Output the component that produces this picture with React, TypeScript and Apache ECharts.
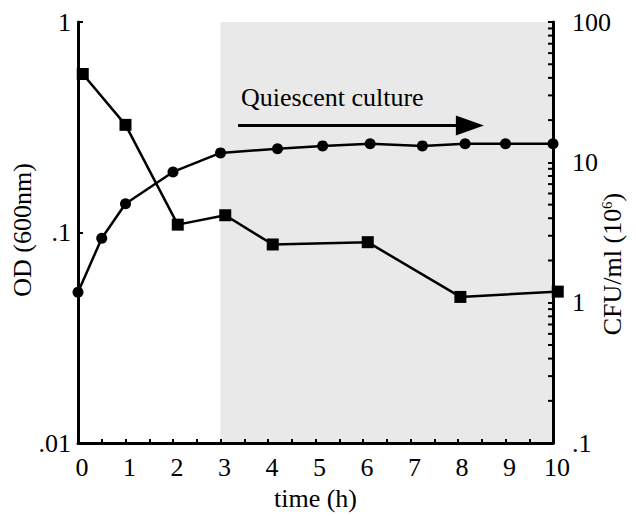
import React, { useEffect, useRef } from "react";
import * as echarts from "echarts";

const odHours = [0, 0.5, 1, 2, 3, 4.2, 5.15, 6.15, 7.25, 8.15, 9, 10];
const odValues = [0.052, 0.094, 0.137, 0.194, 0.239, 0.25, 0.258, 0.264, 0.258, 0.264, 0.264, 0.264];
const cfuHours = [0.1, 1, 2.1, 3.1, 4.1, 6.1, 8.05, 10.1];
const cfuValues = [42.6, 18.5, 3.6, 4.2, 2.6, 2.7, 1.1, 1.2];
const cfuMinorTicks = [0.2, 0.3, 0.4, 0.5, 0.6, 0.7, 0.8, 0.9, 2, 3, 4, 5, 6, 7, 8, 9, 20, 30, 40, 50, 60, 70, 80, 90];
const quiescentStart = 3;
const quiescentEnd = 10;
const arrowFrom = [3.37, 0.322];
const arrowTo = [8.25, 0.322];

const FONT = "'Liberation Serif', 'Times New Roman', serif";
const FS = 26;

function fmtLog(v: number) {
  const e = Math.round(Math.log10(v));
  if (e >= 0) return String(Math.pow(10, e));
  return "." + "0".repeat(-e - 1) + "1";
}

export default function App() {
  const ref = useRef<HTMLDivElement>(null);
  useEffect(() => {
    document.body.style.margin = "0";
    if (!ref.current) return;
    const chart = echarts.init(ref.current, null, { renderer: "svg" });
    const labelStyle = { color: "#000", fontSize: FS, fontFamily: FONT };
    chart.setOption({
      animation: false,
      backgroundColor: "#fff",
      grid: { left: 78, right: 83, top: 22, bottom: 72 },
      xAxis: {
        type: "value",
        min: 0,
        max: 10,
        interval: 1,
        z: 10,
        name: "time (h)",
        nameLocation: "middle",
        nameGap: 40,
        nameTextStyle: { color: "#000", fontSize: FS, fontFamily: FONT },
        axisLine: { show: true, lineStyle: { color: "#000", width: 3 } },
        axisTick: { show: true, inside: true, length: 4, lineStyle: { color: "#000", width: 2 } },
        minorTick: { show: true, splitNumber: 2, length: 4, lineStyle: { color: "#000", width: 2 } },
        axisLabel: { ...labelStyle, margin: 11, padding: [0, 0, 0, 8] },
        splitLine: { show: false },
        minorSplitLine: { show: false },
      },
      yAxis: [
        {
          type: "log",
          logBase: 10,
          min: 0.01,
          max: 1,
          position: "left",
          z: 10,
          axisLine: { show: true, lineStyle: { color: "#000", width: 3 } },
          axisTick: { show: true, inside: true, length: 5, lineStyle: { color: "#000", width: 2 } },
          axisLabel: { ...labelStyle, margin: 7, formatter: fmtLog },
          splitLine: { show: false },
        },
        {
          type: "log",
          logBase: 10,
          min: 0.1,
          max: 100,
          position: "right",
          z: 10,
          axisLine: { show: true, lineStyle: { color: "#000", width: 3 } },
          axisTick: { show: true, inside: true, length: 5, lineStyle: { color: "#000", width: 2 } },
          axisLabel: { ...labelStyle, margin: 19, formatter: fmtLog },
          splitLine: { show: false },
        },
      ],
      series: [
        {
          type: "line",
          name: "OD",
          yAxisIndex: 0,
          data: odHours.map((h, i) => [h, odValues[i]]),
          symbol: "circle",
          symbolSize: 11,
          clip: false,
          z: 12,
          lineStyle: { color: "#000", width: 2.5 },
          itemStyle: { color: "#000" },
          markArea: {
            silent: true,
            z: 1,
            itemStyle: { color: "#e9e9e9" },
            data: [[{ xAxis: quiescentStart }, { xAxis: quiescentEnd }]],
          },
          markLine: {
            silent: true,
            symbol: ["none", "triangle"],
            symbolSize: [20, 28],
            label: { show: false },
            lineStyle: { color: "#000", width: 3, type: "solid" },
            data: [[{ coord: arrowFrom }, { coord: arrowTo }]],
          },
        },
        {
          type: "line",
          name: "CFU",
          yAxisIndex: 1,
          data: cfuHours.map((h, i) => [h, cfuValues[i]]),
          symbol: "rect",
          symbolSize: 12,
          clip: false,
          z: 12,
          lineStyle: { color: "#000", width: 2.5 },
          itemStyle: { color: "#000" },
        },
        {
          type: "custom",
          yAxisIndex: 1,
          silent: true,
          z: 11,
          data: cfuMinorTicks.map((v) => [quiescentEnd, v]),
          renderItem: (params: any, api: any) => {
            const p = api.coord([api.value(0), api.value(1)]);
            return {
              type: "line",
              shape: { x1: p[0], y1: p[1], x2: p[0] - 5, y2: p[1] },
              style: { stroke: "#000", lineWidth: 2 },
            };
          },
        },
      ],
      graphic: [
        {
          type: "text",
          left: 241,
          top: 84,
          z: 100,
          style: { text: "Quiescent culture", fill: "#000", fontSize: FS, fontFamily: FONT },
        },
        {
          type: "text",
          x: 22,
          y: 230,
          z: 100,
          rotation: Math.PI / 2,
          style: {
            text: "OD (600nm)",
            fill: "#000",
            fontSize: FS,
            fontFamily: FONT,
            align: "center",
            verticalAlign: "middle",
          },
        },
        {
          type: "text",
          x: 612,
          y: 264,
          z: 100,
          rotation: Math.PI / 2,
          style: {
            text: "{a|CFU/ml (10}{s|6}{a|)}",
            align: "center",
            verticalAlign: "middle",
            rich: {
              a: { fill: "#000", fontSize: FS, fontFamily: FONT, verticalAlign: "bottom" },
              s: { fill: "#000", fontSize: 15, fontFamily: FONT, verticalAlign: "top", padding: [0, 0, 11, 0] },
            },
          },
        },
      ],
    });
    return () => chart.dispose();
  }, []);
  return <div ref={ref} style={{ width: 636, height: 516 }} />;
}
